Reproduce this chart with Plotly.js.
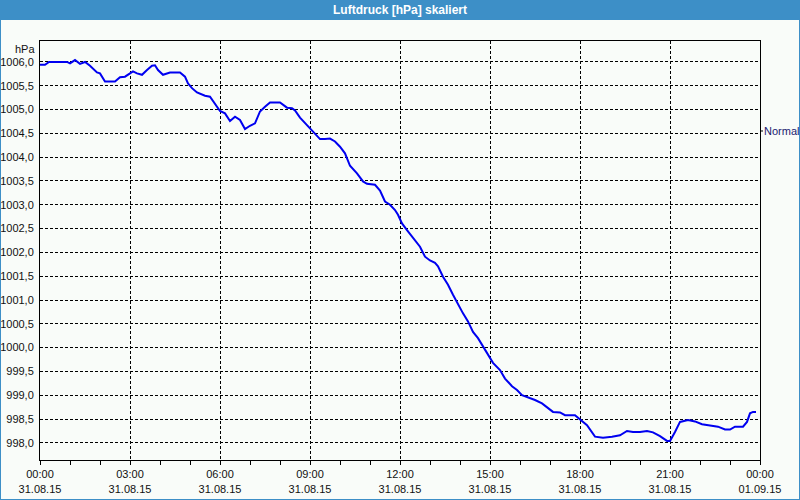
<!DOCTYPE html>
<html>
<head>
<meta charset="utf-8">
<script src="https://cdn.plot.ly/plotly-3.0.1.min.js"></script>
<style>html,body{margin:0;padding:0;background:#f9fcf9;}#chart{width:800px;height:500px;}</style>
</head>
<body>
<div id="chart"></div>
<script>
var chartTitle = "Luftdruck [hPa] skaliert";
var unitLabel = "hPa";
var normalLabel = "Normal";
var normalValue = 1004.55;
var day = "2015-08-31";
var times = ["00:00","00:10","00:18","00:54","01:00","01:10","01:20","01:30","01:40","01:54","02:00","02:10","02:30","02:40","02:50","02:56","03:06","03:14","03:24","03:34","03:44","03:50","03:56","04:06","04:14","04:20","04:40","04:50","04:56","05:04","05:14","05:24","05:30","05:40","05:46","05:54","06:00","06:10","06:20","06:30","06:40","06:50","07:00","07:10","07:16","07:20","07:30","07:40","08:00","08:14","08:24","08:30","08:40","09:00","09:10","09:20","09:30","09:40","09:50","10:00","10:10","10:20","10:34","10:46","10:54","11:10","11:20","11:30","11:40","11:50","11:56","12:04","12:14","12:24","12:34","12:40","12:50","13:00","13:10","13:16","13:26","13:36","13:46","13:56","14:06","14:16","14:26","14:36","14:46","14:56","15:06","15:20","15:30","15:44","15:54","16:04","16:16","16:30","16:44","16:54","17:06","17:20","17:30","17:50","18:00","18:14","18:30","18:46","19:04","19:20","19:34","19:46","20:00","20:14","20:26","20:40","20:54","21:00","21:10","21:20","21:36","21:50","22:04","22:20","22:36","22:50","23:00","23:10","23:26","23:34","23:40","23:46","23:52"];
var pressure = [1005.94,1005.94,1006.0,1006.0,1005.97,1006.04,1005.96,1006.0,1005.92,1005.78,1005.76,1005.59,1005.59,1005.68,1005.69,1005.73,1005.80,1005.76,1005.73,1005.83,1005.92,1005.93,1005.83,1005.73,1005.76,1005.78,1005.78,1005.69,1005.55,1005.45,1005.36,1005.32,1005.29,1005.27,1005.18,1005.08,1004.97,1004.92,1004.76,1004.85,1004.78,1004.59,1004.66,1004.71,1004.85,1004.96,1005.06,1005.15,1005.15,1005.04,1005.03,1004.98,1004.83,1004.61,1004.50,1004.38,1004.38,1004.39,1004.33,1004.22,1004.08,1003.82,1003.66,1003.49,1003.44,1003.42,1003.30,1003.07,1003.0,1002.89,1002.79,1002.61,1002.47,1002.33,1002.20,1002.12,1001.91,1001.83,1001.78,1001.71,1001.49,1001.32,1001.11,1000.90,1000.72,1000.55,1000.33,1000.20,1000.02,999.84,999.68,999.53,999.35,999.19,999.11,999.0,998.96,998.90,998.83,998.75,998.65,998.64,998.58,998.58,998.49,998.37,998.13,998.11,998.13,998.16,998.25,998.23,998.23,998.25,998.22,998.14,998.04,998.04,998.23,998.44,998.48,998.45,998.39,998.37,998.34,998.28,998.28,998.34,998.34,998.44,998.62,998.65,998.65];
var tickTimes = ["2015-08-31 00:00","2015-08-31 03:00","2015-08-31 06:00","2015-08-31 09:00","2015-08-31 12:00","2015-08-31 15:00","2015-08-31 18:00","2015-08-31 21:00","2015-09-01 00:00"];
var tickLabels = ["00:00<br>31.08.15","03:00<br>31.08.15","06:00<br>31.08.15","09:00<br>31.08.15","12:00<br>31.08.15","15:00<br>31.08.15","18:00<br>31.08.15","21:00<br>31.08.15","00:00<br>01.09.15"];
var yTicks = [998,998.5,999,999.5,1000,1000.5,1001,1001.5,1002,1002.5,1003,1003.5,1004,1004.5,1005,1005.5,1006];

var xs = times.map(function(t){ return day + " " + t; });
var font = "Liberation Sans, Arial, sans-serif";
var W = 800, H = 500, ml = 40, mr = 40, mt = 41, mb = 40;
var pw = W - ml - mr, ph = H - mt - mb;
function px(x){ return (x - ml) / pw; }
function py(y){ return (H - mb - y) / ph; }
var blue = "#3d8fc7";

var trace = {x: xs, y: pressure, type: "scatter", mode: "lines",
  line: {color: "#0000f0", width: 2}, hoverinfo: "skip", showlegend: false};

var layout = {
  width: W, height: H,
  margin: {l: ml, r: mr, t: mt, b: mb, pad: 0},
  paper_bgcolor: "#f9fcf9", plot_bgcolor: "#f9fcf9",
  separators: ",.",
  font: {family: font, size: 11, color: "#111111"},
  title: {text: "<b>" + chartTitle + "</b>", x: 0.5, xanchor: "center", yref: "container", y: 1 - 10/H, yanchor: "middle",
    font: {family: font, size: 12, color: "#ffffff"}},
  xaxis: {type: "date", range: ["2015-08-31 00:00", "2015-09-01 00:00"],
    tickvals: tickTimes, ticktext: tickLabels, ticks: "outside", ticklen: 4, tickcolor: "#000",
    minor: {dtick: 3600000, ticks: "outside", ticklen: 4, tickcolor: "#000", showgrid: false},
    showgrid: true, gridcolor: "#000", griddash: "3px,2px", gridwidth: 1,
    showline: true, linecolor: "#000", linewidth: 1, mirror: true, zeroline: false,
    tickfont: {family: font, size: 11, color: "#111"}, fixedrange: true},
  yaxis: {range: [997.64, 1006.44], tickvals: yTicks, tickformat: ".1f", ticks: "",
    showgrid: true, gridcolor: "#000", griddash: "3px,2px", gridwidth: 1,
    showline: true, linecolor: "#000", linewidth: 1, mirror: true, zeroline: false,
    ticklabelstandoff: 3, tickfont: {family: font, size: 11, color: "#111"}, fixedrange: true},
  shapes: [
    {type: "rect", xref: "paper", yref: "paper", x0: px(0), x1: px(800), y0: py(20), y1: py(0), fillcolor: blue, line: {width: 0}, layer: "below"},
    {type: "line", xref: "paper", yref: "paper", x0: px(0.5), x1: px(0.5), y0: py(20), y1: py(500), line: {color: blue, width: 1}},
    {type: "line", xref: "paper", yref: "paper", x0: px(799.5), x1: px(799.5), y0: py(20), y1: py(500), line: {color: blue, width: 1}},
    {type: "line", xref: "paper", yref: "paper", x0: px(0), x1: px(800), y0: py(499.5), y1: py(499.5), line: {color: blue, width: 1}},
    {type: "line", xref: "paper", yref: "y", x0: 1, x1: px(763), y0: normalValue, y1: normalValue, line: {color: "#000", width: 1}}
  ],
  annotations: [
    {text: unitLabel, xref: "paper", yref: "paper", x: 0, y: 1, xanchor: "right", yanchor: "top", xshift: -3, yshift: 0,
      showarrow: false, font: {family: font, size: 11, color: "#111"}},
    {text: normalLabel, xref: "paper", yref: "y", x: 1, y: normalValue, xanchor: "left", yanchor: "middle", xshift: 2,
      showarrow: false, font: {family: font, size: 11, color: "#1a1a70"}}
  ]
};
Plotly.newPlot("chart", [trace], layout, {displayModeBar: false, staticPlot: true});
</script>
</body>
</html>
